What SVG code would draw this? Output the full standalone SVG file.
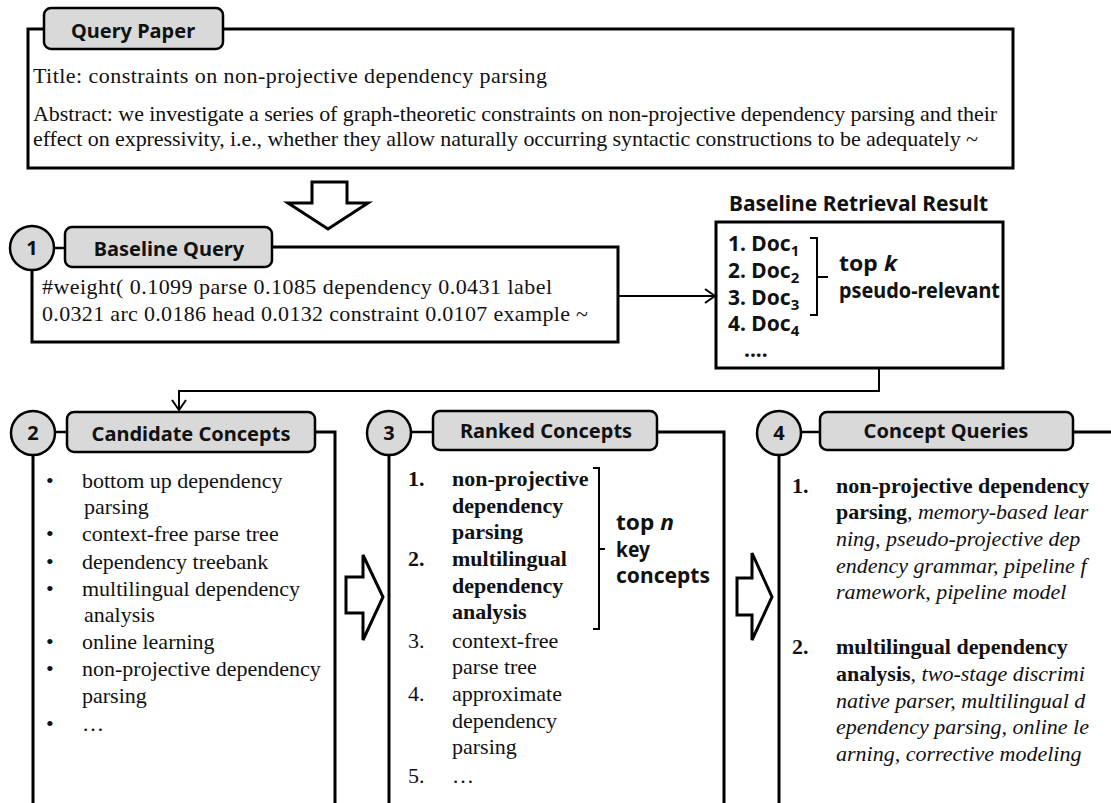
<svg xmlns="http://www.w3.org/2000/svg" width="1111" height="803" viewBox="0 0 1111 803">
<defs>
<style>
.box{fill:none;stroke:#000;stroke-width:3}
.tab{fill:#d9d9d9;stroke:#000;stroke-width:2.5}
.circ{fill:#d9d9d9;stroke:#000;stroke-width:2.5}
.ln{fill:none;stroke:#000;stroke-width:2.5}
.con{fill:none;stroke:#000;stroke-width:2}
.blk{fill:#fff;stroke:#000;stroke-width:3;stroke-linejoin:miter}
.brk{fill:none;stroke:#000;stroke-width:2}
.ttl{font-family:"Noto Sans","Open Sans","Liberation Sans",sans-serif;font-weight:bold;font-size:20px;fill:#111;text-anchor:middle}
.num{font-family:"Noto Sans","Liberation Sans",sans-serif;font-weight:bold;font-size:20px;fill:#111;text-anchor:middle}
.ser{font-family:"Liberation Serif","Times New Roman",serif;font-size:22px;fill:#111}
.sans{font-family:"Noto Sans","Open Sans","Liberation Sans",sans-serif;font-size:21px;font-weight:bold;fill:#111}
.b{font-weight:bold}
.i{font-style:italic}
</style>
<marker id="chev" viewBox="0 0 12 16" refX="11" refY="8" markerWidth="12" markerHeight="16" markerUnits="userSpaceOnUse" orient="auto">
<path d="M1,1 L11,8 L1,15" fill="none" stroke="#000" stroke-width="2"/>
</marker>
</defs>

<g id="query-paper">
<rect class="box" x="28" y="29" width="985" height="139"/>
<rect class="tab" x="44" y="8" width="179" height="41" rx="7"/>
<text class="ttl" x="133" y="38">Query Paper</text>
<text class="ser" x="33" y="83" textLength="514" lengthAdjust="spacing">Title: constraints on non-projective dependency parsing</text>
<text class="ser" x="33" y="121" textLength="964" lengthAdjust="spacing">Abstract: we investigate a series of graph-theoretic constraints on non-projective dependency parsing and their</text>
<text class="ser" x="33" y="146" textLength="945" lengthAdjust="spacing">effect on expressivity, i.e., whether they allow naturally occurring syntactic constructions to be adequately ~</text>
</g>

<g id="down-arrow">
<path class="blk" d="M312,182 H347 V203 H368 L328,229 L288,203 H312 Z"/>
</g>

<g id="baseline-query">
<path class="box" d="M32,248 V342 H618 V247 H272"/>
<line class="ln" x1="54" y1="248" x2="65" y2="248"/>
<rect class="tab" x="65" y="227" width="207" height="40" rx="7"/>
<text class="ttl" x="169" y="256">Baseline Query</text>
<circle class="circ" cx="32" cy="248" r="22"/>
<text class="num" x="32" y="255">1</text>
<text class="ser" x="42" y="294" textLength="510" lengthAdjust="spacing">#weight( 0.1099 parse 0.1085 dependency  0.0431 label</text>
<text class="ser" x="42" y="321" textLength="546" lengthAdjust="spacing">0.0321 arc 0.0186 head 0.0132 constraint 0.0107 example ~</text>
</g>

<g id="retrieval-result">
<text class="sans" x="729" y="211" textLength="259" lengthAdjust="spacingAndGlyphs">Baseline Retrieval Result</text>
<rect class="box" x="716" y="222" width="287" height="146"/>
<text class="sans" x="728" y="251" font-size="22">1. Doc<tspan font-size="15" dy="5">1</tspan></text>
<text class="sans" x="728" y="278" font-size="22">2. Doc<tspan font-size="15" dy="5">2</tspan></text>
<text class="sans" x="728" y="305" font-size="22">3. Doc<tspan font-size="15" dy="5">3</tspan></text>
<text class="sans" x="728" y="331" font-size="22">4. Doc<tspan font-size="15" dy="5">4</tspan></text>
<text class="sans" x="744" y="357">....</text>
<path class="brk" d="M810,238 H817 V315 H810 M817,277 H828"/>
<text class="sans" x="839" y="271" textLength="58" lengthAdjust="spacingAndGlyphs">top <tspan class="i">k</tspan></text>
<text class="sans" x="839" y="298" textLength="161" lengthAdjust="spacingAndGlyphs">pseudo-relevant</text>
</g>

<g id="candidate-concepts">
<path class="box" d="M33,433 V803 M315,432 H335 V803"/>
<line class="ln" x1="55" y1="432" x2="67" y2="432"/>
<rect class="tab" x="67" y="412" width="248" height="40" rx="7"/>
<text class="ttl" x="191" y="441">Candidate Concepts</text>
<circle class="circ" cx="33" cy="433" r="22"/>
<text class="num" x="33" y="440">2</text>
<g class="ser">
<text x="46" y="488">•</text><text x="82" y="488">bottom up dependency</text>
<text x="84" y="514">parsing</text>
<text x="46" y="541">•</text><text x="82" y="541">context-free parse tree</text>
<text x="46" y="569">•</text><text x="82" y="569">dependency treebank</text>
<text x="46" y="596">•</text><text x="82" y="596">multilingual dependency</text>
<text x="84" y="622">analysis</text>
<text x="46" y="649">•</text><text x="82" y="649">online learning</text>
<text x="46" y="676">•</text><text x="82" y="676">non-projective dependency</text>
<text x="82" y="703">parsing</text>
<text x="46" y="731">•</text><text x="82" y="731">…</text>
</g>
</g>

<g id="arrow-2-3">
<path class="blk" d="M346,577 H363 V555 L383,597 L363,640 V613 H346 Z"/>
</g>

<g id="ranked-concepts">
<path class="box" d="M389,433 V803 M657,432 H724 V803"/>
<line class="ln" x1="411" y1="432" x2="433" y2="432"/>
<rect class="tab" x="433" y="411" width="224" height="39" rx="7"/>
<text class="ttl" x="546" y="438">Ranked Concepts</text>
<circle class="circ" cx="389" cy="433" r="22"/>
<text class="num" x="389" y="440">3</text>
<g class="ser">
<text class="b" x="408" y="486">1.</text><text class="b" x="452" y="486">non-projective</text>
<text class="b" x="452" y="513">dependency</text>
<text class="b" x="452" y="539">parsing</text>
<text class="b" x="408" y="566">2.</text><text class="b" x="452" y="566">multilingual</text>
<text class="b" x="452" y="593">dependency</text>
<text class="b" x="452" y="619">analysis</text>
<text x="408" y="648">3.</text><text x="452" y="648">context-free</text>
<text x="452" y="674">parse tree</text>
<text x="408" y="701">4.</text><text x="452" y="701">approximate</text>
<text x="452" y="728">dependency</text>
<text x="452" y="754">parsing</text>
<text x="408" y="783">5.</text><text x="452" y="783">…</text>
</g>
<path class="brk" d="M593,468 H599 V629 H593 M599,549 H605"/>
<text class="sans" x="616" y="530" textLength="58" lengthAdjust="spacingAndGlyphs">top <tspan class="i">n</tspan></text>
<text class="sans" x="616" y="557" textLength="34" lengthAdjust="spacingAndGlyphs">key</text>
<text class="sans" x="616" y="583" textLength="94" lengthAdjust="spacingAndGlyphs">concepts</text>
</g>

<g id="arrow-3-4">
<path class="blk" d="M737,578 H752 V553 L772,597 L752,640 V615 H737 Z"/>
</g>

<g id="concept-queries">
<path class="box" d="M779,433 V803 M1073,432 H1111"/>
<line class="ln" x1="801" y1="432" x2="820" y2="432"/>
<rect class="tab" x="820" y="412" width="253" height="38" rx="7"/>
<text class="ttl" x="946" y="438">Concept Queries</text>
<circle class="circ" cx="779" cy="433" r="22"/>
<text class="num" x="779" y="440">4</text>
<g class="ser">
<text class="b" x="792" y="493">1.</text><text class="b" x="836" y="493">non-projective dependency</text>
<text x="836" y="519"><tspan class="b">parsing</tspan>, <tspan class="i">memory-based lear</tspan></text>
<text class="i" x="836" y="546">ning, pseudo-projective dep</text>
<text class="i" x="836" y="573">endency grammar, pipeline f</text>
<text class="i" x="836" y="599">ramework, pipeline model</text>
<text class="b" x="792" y="654">2.</text><text class="b" x="836" y="654">multilingual dependency</text>
<text x="836" y="681"><tspan class="b">analysis</tspan>, <tspan class="i">two-stage discrimi</tspan></text>
<text class="i" x="836" y="708">native parser, multilingual d</text>
<text class="i" x="836" y="734">ependency parsing, online le</text>
<text class="i" x="836" y="761">arning, corrective modeling</text>
</g>
</g>

<g id="connectors">
<path class="con" d="M618,296 H715" marker-end="url(#chev)"/>
<path class="con" d="M879,368 V391 H179 V410" marker-end="url(#chev)"/>
</g>
</svg>
